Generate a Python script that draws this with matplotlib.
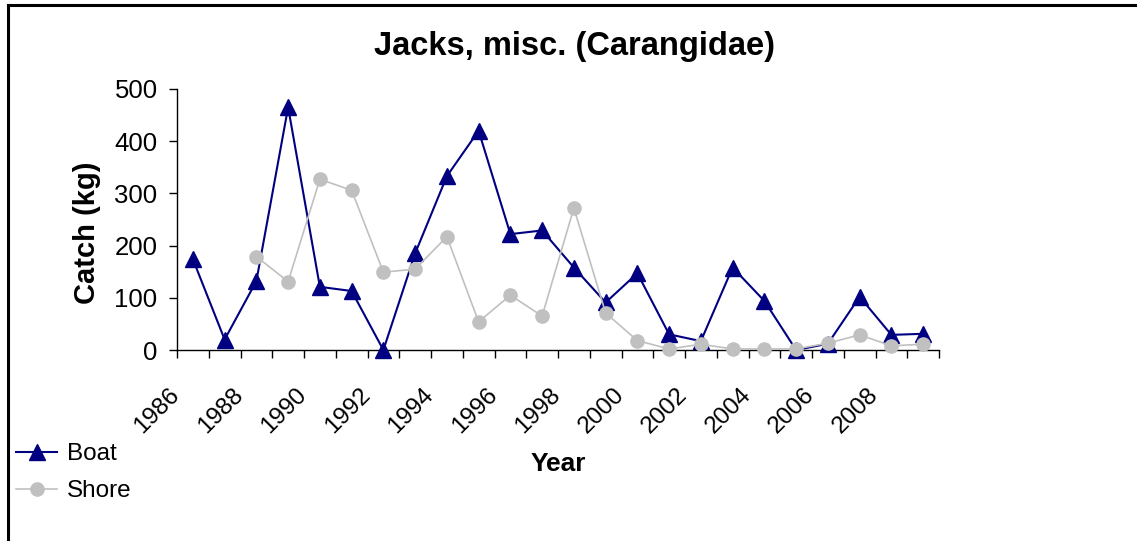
import numpy as np
import matplotlib
matplotlib.use('Agg')
import matplotlib.pyplot as plt
from matplotlib.lines import Line2D
from matplotlib.transforms import ScaledTranslation

plt.rcParams['font.family'] = ['Liberation Sans', 'DejaVu Sans']

# 数据 (1986 - 2009)
years = list(range(1986, 2010))
boat = [174, 20, 132, 465, 121, 113, 0, 185, 333, 420, 222, 229,
        158, 91, 147, 30, 17, 158, 94, 0, 12, 102, 29, 31]
shore = [np.nan, np.nan, 179, 131, 327, 306, 149, 155, 217, 54, 105, 65,
         272, 71, 18, 2, 11, 2, 2, 2, 13, 29, 8, 11]
tick_years = years[::2]

fig = plt.figure(figsize=(11.37, 5.41), dpi=100)
ax = fig.add_axes([177 / 1137, 1 - 350 / 541, 762 / 1137, 261 / 541])

x = np.arange(len(years))
ax.plot(x, boat, color='#000080', lw=1.5, marker='^', ms=11,
        label='Boat', clip_on=False, zorder=3)
ax.plot(x, shore, color='#C0C0C0', lw=1.2, marker='o', ms=9.5,
        label='Shore', clip_on=False, zorder=4)

ax.set_xlim(-0.5, len(years) - 0.5)
ax.set_ylim(0, 500)
ax.set_yticks(range(0, 501, 100))

# 刻度线在类别之间, 标签每两年一个
ax.set_xticks(x[::2])
ax.set_xticklabels([str(y) for y in tick_years], rotation=45, ha='right', va='top')
ax.set_xticks(np.arange(-0.5, len(years), 1), minor=True)
ax.tick_params(axis='x', which='major', length=0, pad=24.5, labelsize=17.5)
ax.tick_params(axis='x', which='minor', length=6, direction='out', width=1)
ax.tick_params(axis='y', length=6, direction='out', width=1, labelsize=18.5, pad=8)

offset = ScaledTranslation(-9 / 100, 0, fig.dpi_scale_trans)
for lab in ax.get_xticklabels():
    lab.set_transform(lab.get_transform() + offset)

for s in ['top', 'right']:
    ax.spines[s].set_visible(False)
for s in ['left', 'bottom']:
    ax.spines[s].set_linewidth(1)

fig.text(575 / 1137, 1 - 47 / 541, 'Jacks, misc. (Carangidae)', ha='center',
         va='center', fontsize=23.5, fontweight='bold')
fig.text(87 / 1137, 1 - 233 / 541, 'Catch (kg)', rotation=90, ha='center',
         va='center', fontsize=21, fontweight='bold')
fig.text(558 / 1137, 1 - 464 / 541, 'Year', ha='center', va='center',
         fontsize=19, fontweight='bold')

fig.legend(loc='upper left', bbox_to_anchor=(16 / 1137, 1 - 443 / 541),
           frameon=False, fontsize=17.5, borderaxespad=0, borderpad=0,
           handlelength=1.7, handletextpad=0.4, labelspacing=0.62)

# 外框
fig.add_artist(Line2D([8 / 1137, 8 / 1137], [0, 1 - 5 / 541],
                      transform=fig.transFigure, color='black', lw=2.2))
fig.add_artist(Line2D([8 / 1137, 1], [1 - 5 / 541, 1 - 5 / 541],
                      transform=fig.transFigure, color='black', lw=2.2))

fig.savefig('out.png', dpi=100)
